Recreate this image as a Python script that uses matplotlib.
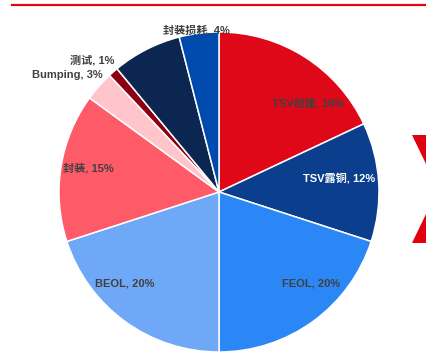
import matplotlib
matplotlib.use("Agg")
import matplotlib.pyplot as plt
from matplotlib.patches import Polygon
from matplotlib.lines import Line2D

plt.rcParams["font.family"] = ["Liberation Sans", "Noto Sans CJK SC", "DejaVu Sans"]

# dane: udziały kosztów (zgodnie z ruchem wskazówek zegara od góry)
kategorie = ["TSV创建", "TSV露铜", "FEOL", "BEOL", "封装", "Bumping", "测试", "", "封装损耗"]
udzialy = [18, 12, 20, 20, 15, 3, 1, 7, 4]
kolory = ["#DF0819", "#0B3F8E", "#2A87F5", "#6EA8F7", "#FF5A68",
          "#FFC5CB", "#8A0012", "#0B2650", "#0049AD"]

# pozycje etykiet (w jednostkach promienia) i kolory tekstu
pozycje_etykiet = [(0.556, 0.556), (0.75, 0.0875), (0.578, -0.575), (-0.59, -0.575),
                   (-0.816, 0.15), (-0.947, 0.73), (-0.79, 0.825), None, (-0.144, 1.01)]
kolory_etykiet = ["#404040", "white", "#404040", "#404040", "#404040",
                  "#404040", "#404040", "#404040", "#404040"]

W, H = 427, 360
fig = plt.figure(figsize=(W / 100, H / 100), dpi=100)

# czerwona linia u góry
fig.add_artist(Line2D([12 / W, 1.0], [1 - 4.5 / H, 1 - 4.5 / H],
                      color="#E60012", linewidth=1.6, transform=fig.transFigure))

# czerwony znak po prawej
def px(x, y):
    return (x / W, 1 - y / H)

for tri in ([(412, 135), (427, 135), (427, 166)], [(412, 243), (427, 243), (427, 212)]):
    fig.add_artist(Polygon([px(*p) for p in tri], closed=True, facecolor="#E00010",
                           edgecolor="none", transform=fig.transFigure))

cx, cy, r = 219, 192, 160
ax = fig.add_axes([(cx - r) / W, (H - cy - r) / H, 2 * r / W, 2 * r / H])
ax.pie(udzialy, colors=kolory, startangle=90, counterclock=False, radius=1,
       wedgeprops=dict(edgecolor="white", linewidth=1.1))
ax.set_xlim(-1, 1)
ax.set_ylim(-1, 1)
ax.set_aspect("equal")
ax.axis("off")

for nazwa, val, poz, kol in zip(kategorie, udzialy, pozycje_etykiet, kolory_etykiet):
    if poz is None:
        continue
    ax.text(poz[0], poz[1], f"{nazwa}, {val}%", ha="center", va="center",
            fontsize=8, fontweight="bold", color=kol, clip_on=False)

fig.savefig("out.png", dpi=100)
